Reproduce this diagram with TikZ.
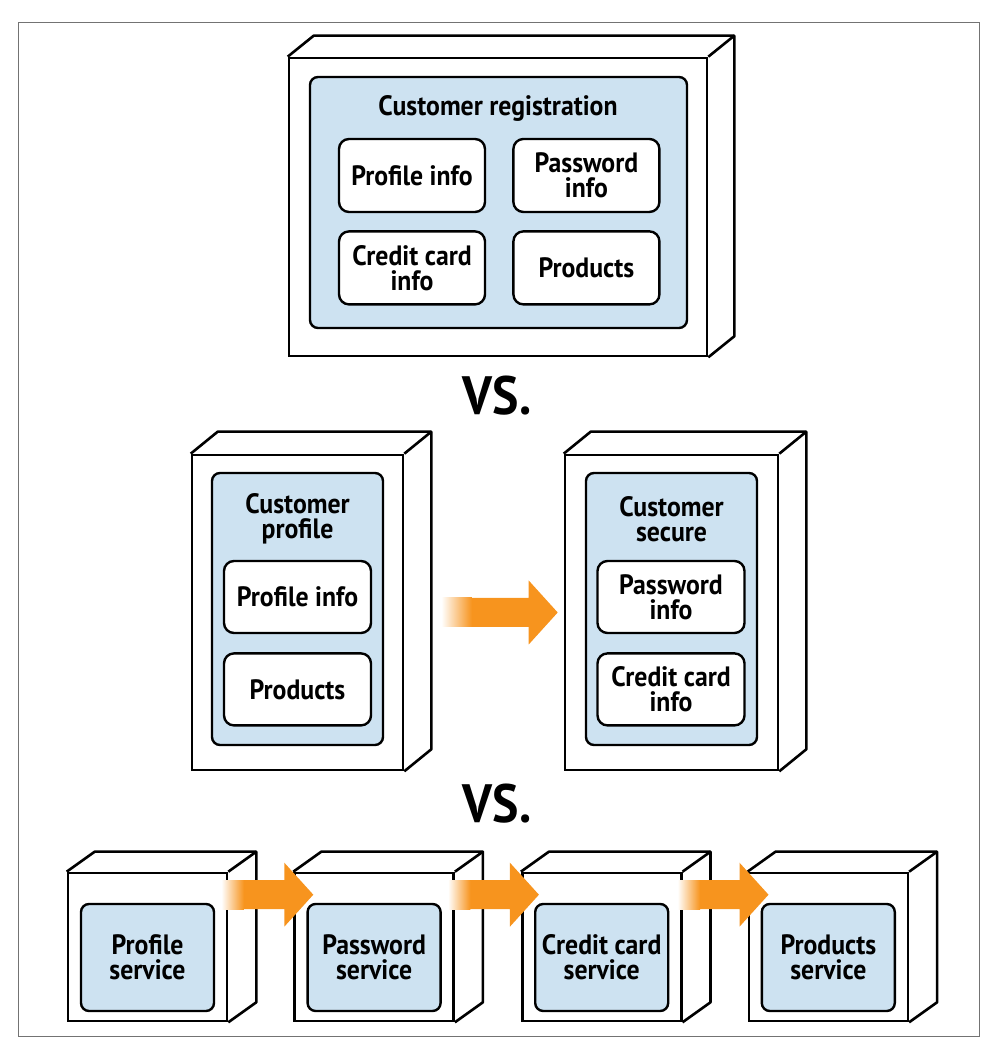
\documentclass[tikz,border=0pt]{standalone}
\usepackage{fontspec}
\setmainfont{PT Sans}[FakeStretch=0.92]
\usepackage{tikz}
\usetikzlibrary{positioning, calc}

\definecolor{panelblue}{RGB}{205,226,241}
\definecolor{arroworange}{RGB}{247,148,30}

% back faces of a box, drawn from the front node
\newcommand{\cubeside}[3]{%
  \draw[cubeline] (#1.north west) -- ++(#2,#3) -- ($(#1.north east)+(#2,#3)$)
    -- ($(#1.south east)+(#2,#3)$) -- (#1.south east);
  \draw[cubeline] (#1.north east) -- ++(#2,#3);
}
% broad orange arrow with faded tail
\newcommand{\fadearrow}[3]{%
  \fill[arroworange] ($(#1)+(#3,14.5)$) -- ($(#2)+(-29,14.5)$) -- ($(#2)+(-29,32)$) -- (#2)
    -- ($(#2)+(-29,-32)$) -- ($(#2)+(-29,-14.5)$) -- ($(#1)+(#3,-14.5)$) -- cycle;
  \shade[left color=white, right color=arroworange] ($(#1)+(0,-14.5)$) rectangle ($(#1)+(#3+0.5,14.5)$);
}

\begin{document}
\begin{tikzpicture}[
    x=1pt, y=1pt,
    font=\bfseries\fontsize{28}{25}\selectfont,
    cube/.style={
        rectangle, draw=black, line width=2.6pt, fill=white, inner sep=0pt
    },
    cubeline/.style={draw=black, line width=2.6pt, line join=round},
    panel/.style={
        rectangle, rounded corners=8pt, draw=black, line width=2.4pt,
        fill=panelblue, inner sep=0pt, align=center
    },
    item/.style={
        rectangle, rounded corners=10pt, draw=black, line width=2.4pt,
        fill=white, align=center, inner sep=0pt,
        minimum width=146pt, minimum height=73pt
    },
    heading/.style={align=center, inner sep=0pt},
    versus/.style={inner sep=0pt, font=\bfseries\fontsize{54}{54}\selectfont}
]
\useasboundingbox (0,0) rectangle (996,1054);
\draw[black!55, line width=1pt] (18,17) rectangle (979,1031);

% one service for everything
\node (regbox) [cube, minimum width=418pt, minimum height=298pt] at (498,847) {};
\cubeside{regbox}{26}{21}
\node (regpanel) [panel, minimum width=377pt, minimum height=251pt] at (498.5,851.5) {};
\node (regtitle) [heading] at (498,946) {Customer registration};
\node (regprof) [item] at (412,878.5) {Profile info};
\node (regpass) [item, right=26pt of regprof] {Password\\info};
\node (regcard) [item, below=17pt of regprof] {Credit card\\info};
\node (regprod) [item, below=17pt of regpass] {Products};

\node (vsone) [versus] at (497,658) {VS.};

% two services
\node (profbox) [cube, minimum width=211pt, minimum height=315pt] at (297.5,441.5) {};
\cubeside{profbox}{27}{22}
\node (profpanel) [panel, minimum width=171pt, minimum height=272pt] at (297.5,445) {};
\node (proftitle) [heading] at (297.5,535) {Customer\\profile};
\node (profinfo) [item, minimum width=147pt, minimum height=72pt] at (297.5,457) {Profile info};
\node (profprod) [item, minimum width=147pt, minimum height=72pt, below=18pt of profinfo] {Products};

\node (secbox) [cube, minimum width=213pt, minimum height=315pt] at (671.5,441.5) {};
\cubeside{secbox}{27}{22}
\node (secpanel) [panel, minimum width=171pt, minimum height=272pt] at (671.5,445) {};
\node (sectitle) [heading] at (671.5,535) {Customer\\secure};
\node (secpass) [item, minimum width=147pt, minimum height=72pt] at (671,457) {Password\\info};
\node (seccard) [item, minimum width=147pt, minimum height=72pt, below=18pt of secpass] {Credit card\\info};

\coordinate (midfrom) at ($(profbox.east)+(37,0)$);
\coordinate (midto) at ($(secbox.west)+(-6,0)$);
\fadearrow{midfrom}{midto}{30}

\node (vstwo) [versus] at (497,250) {VS.};

% one service per part
\node (svcone) [cube, minimum width=159pt, minimum height=148pt] at (147.5,107) {};
\node (svctwo) [cube, minimum width=159pt, minimum height=148pt, right=65pt of svcone] {};
\node (svcthree) [cube, minimum width=159pt, minimum height=148pt, right=66pt of svctwo] {};
\node (svcfour) [cube, minimum width=159pt, minimum height=148pt, right=65pt of svcthree] {};
\cubeside{svcone}{28}{20}
\cubeside{svctwo}{28}{20}
\cubeside{svcthree}{28}{20}
\cubeside{svcfour}{28}{20}
\node (pnlone) [panel, minimum width=133pt, minimum height=107pt] at ($(svcone)+(0,-10.5)$) {Profile\\service};
\node (pnltwo) [panel, minimum width=133pt, minimum height=107pt] at ($(svctwo)+(0,-10.5)$) {Password\\service};
\node (pnlthree) [panel, minimum width=133pt, minimum height=107pt] at ($(svcthree)+(0,-10.5)$) {Credit card\\service};
\node (pnlfour) [panel, minimum width=133pt, minimum height=107pt] at ($(svcfour)+(0,-10.5)$) {Products\\service};

\coordinate (aonefrom) at ($(svcone.north east)+(-7,-23)$);
\coordinate (aoneto) at ($(svctwo.north west)+(20,-23)$);
\coordinate (atwofrom) at ($(svctwo.north east)+(-7,-23)$);
\coordinate (atwoto) at ($(svcthree.north west)+(18,-23)$);
\coordinate (athreefrom) at ($(svcthree.north east)+(-5,-23)$);
\coordinate (athreeto) at ($(svcfour.north west)+(21,-23)$);
\fadearrow{aonefrom}{aoneto}{22}
\fadearrow{atwofrom}{atwoto}{22}
\fadearrow{athreefrom}{athreeto}{22}
\end{tikzpicture}
\end{document}
